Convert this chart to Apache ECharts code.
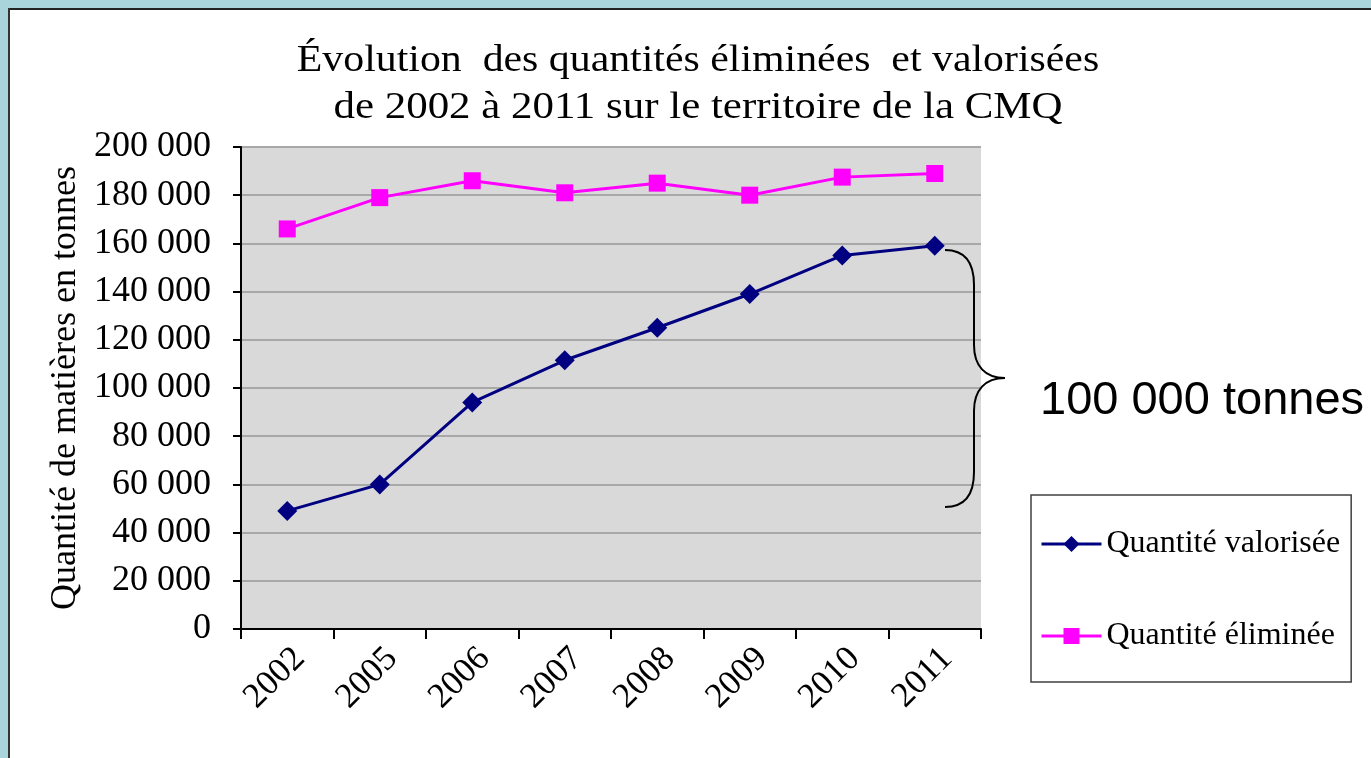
<!DOCTYPE html>
<html>
<head>
<meta charset="utf-8">
<script src="https://cdn.jsdelivr.net/npm/echarts@6/dist/echarts.min.js"></script>
<style>
  html, body { margin: 0; padding: 0; background: #fff; }
  #main { width: 1371px; height: 758px; }
</style>
</head>
<body>
<div id="main"></div>
<script>
// données
var annees = ['2002', '2005', '2006', '2007', '2008', '2009', '2010', '2011'];
var valorisee = [49000, 60000, 94000, 111500, 125000, 139000, 155000, 159000];
var eliminee = [166000, 179000, 186000, 181000, 185000, 180000, 187500, 189000];
var yTicks = { min: 0, max: 200000, interval: 20000 };
var titre = ['Évolution  des quantités éliminées  et valorisées', 'de 2002 à 2011 sur le territoire de la CMQ'];

var serif = '"Liberation Serif", "Times New Roman", serif';

function milliers(v) {
    return String(v).replace(/\B(?=(\d{3})+(?!\d))/g, ' ');
}

var myChart = echarts.init(document.getElementById('main'));
var option = {
    backgroundColor: '#fff',
    animation: false,
    grid: { left: 241, top: 147, width: 740, height: 482 },
    legend: {
        orient: 'vertical',
        left: 1031,
        top: 495,
        padding: [33, 11, 30, 9],
        itemGap: 60,
        itemWidth: 60,
        itemHeight: 20,
        borderColor: '#404040',
        borderWidth: 1.5,
        lineStyle: { width: 3 },
        textStyle: { fontFamily: serif, fontSize: 32, color: '#000', lineHeight: 30 },
        data: ['Quantité valorisée', 'Quantité éliminée']
    },
    xAxis: {
        type: 'category',
        data: annees,
        boundaryGap: true,
        axisLine: { lineStyle: { color: '#000', width: 2 } },
        axisTick: { show: true, length: 10, lineStyle: { color: '#000', width: 2 } },
        axisLabel: {
            rotate: 45,
            margin: 12,
            verticalAlign: 'top',
            fontFamily: serif,
            fontSize: 35,
            color: '#000'
        }
    },
    yAxis: {
        type: 'value',
        min: yTicks.min,
        max: yTicks.max,
        interval: yTicks.interval,
        name: 'Quantité de matières en tonnes',
        nameLocation: 'middle',
        nameRotate: 90,
        nameGap: 157,
        nameTextStyle: { fontFamily: serif, fontSize: 36, color: '#000' },
        axisLine: { show: true, lineStyle: { color: '#000', width: 2 } },
        axisTick: { show: true, length: 8, lineStyle: { color: '#000', width: 2 } },
        axisLabel: {
            margin: 30,
            fontFamily: serif,
            fontSize: 36,
            color: '#000',
            formatter: milliers
        },
        splitLine: { lineStyle: { color: '#a8a8a8', width: 2 } },
        splitArea: { show: true, areaStyle: { color: ['#d9d9d9', '#d9d9d9'] } }
    },
    series: [
        {
            name: 'Quantité valorisée',
            type: 'line',
            data: valorisee,
            symbol: 'diamond',
            symbolSize: 20,
            itemStyle: { color: '#000080' },
            lineStyle: { color: '#000080', width: 3 }
        },
        {
            name: 'Quantité éliminée',
            type: 'line',
            data: eliminee,
            symbol: 'rect',
            symbolSize: 17,
            itemStyle: { color: '#ff00ff' },
            lineStyle: { color: '#ff00ff', width: 3 }
        }
    ],
    graphic: [
        // cadre bleu de la diapositive
        { type: 'rect', shape: { x: 0, y: 0, width: 1371, height: 8 }, style: { fill: '#a9d4db' }, silent: true },
        { type: 'rect', shape: { x: 0, y: 0, width: 8, height: 758 }, style: { fill: '#a9d4db' }, silent: true },
        { type: 'line', shape: { x1: 8, y1: 9, x2: 1371, y2: 9 }, style: { stroke: '#222', lineWidth: 2 }, silent: true },
        { type: 'line', shape: { x1: 9, y1: 8, x2: 9, y2: 758 }, style: { stroke: '#333', lineWidth: 2 }, silent: true },
        // titre (un peu étiré comme dans l'original)
        {
            type: 'text', silent: true, x: 698, y: 61, scaleX: 1.13,
            style: { x: 0, y: 0, text: titre[0], font: '37px ' + serif, fill: '#000', textAlign: 'center', textVerticalAlign: 'middle' }
        },
        {
            type: 'text', silent: true, x: 698, y: 108, scaleX: 1.16,
            style: { x: 0, y: 0, text: titre[1], font: '37px ' + serif, fill: '#000', textAlign: 'center', textVerticalAlign: 'middle' }
        },
        // accolade
        { type: 'bezierCurve', z: 100, silent: true, shape: { x1: 945, y1: 250, cpx1: 964, cpy1: 250, cpx2: 974, cpy2: 262, x2: 974, y2: 285 }, style: { fill: null, stroke: '#000', lineWidth: 2 } },
        { type: 'line', z: 100, silent: true, shape: { x1: 974, y1: 285, x2: 974, y2: 345 }, style: { stroke: '#000', lineWidth: 2 } },
        { type: 'bezierCurve', z: 100, silent: true, shape: { x1: 974, y1: 345, cpx1: 974, cpy1: 366, cpx2: 985, cpy2: 378, x2: 1005, y2: 378 }, style: { fill: null, stroke: '#000', lineWidth: 2 } },
        { type: 'bezierCurve', z: 100, silent: true, shape: { x1: 1005, y1: 378, cpx1: 985, cpy1: 378, cpx2: 974, cpy2: 390, x2: 974, y2: 411 }, style: { fill: null, stroke: '#000', lineWidth: 2 } },
        { type: 'line', z: 100, silent: true, shape: { x1: 974, y1: 411, x2: 974, y2: 472 }, style: { stroke: '#000', lineWidth: 2 } },
        { type: 'bezierCurve', z: 100, silent: true, shape: { x1: 974, y1: 472, cpx1: 974, cpy1: 495, cpx2: 964, cpy2: 507, x2: 945, y2: 507 }, style: { fill: null, stroke: '#000', lineWidth: 2 } },
        {
            type: 'text',
            silent: true,
            style: {
                x: 1040,
                y: 401,
                text: '100 000 tonnes',
                font: '47px "Liberation Sans", Arial, sans-serif',
                fill: '#000',
                textAlign: 'left',
                textVerticalAlign: 'middle'
            }
        }
    ]
};
myChart.setOption(option);
</script>
</body>
</html>
